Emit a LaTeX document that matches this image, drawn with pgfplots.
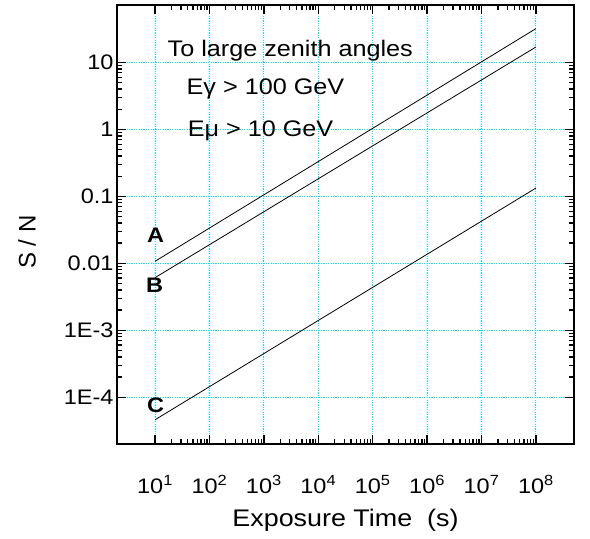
\documentclass[border=0pt]{standalone}
\usepackage{fontspec}
\setmainfont{Liberation Sans}
\usepackage{graphicx}
\usepackage{pgfplots}
\pgfplotsset{compat=1.18}
\definecolor{gridcyan}{RGB}{0,235,245}
\newcommand{\sx}[1]{\scalebox{1.12}[1]{#1}}
\begin{document}
\begin{tikzpicture}
\useasboundingbox (-117pt,-95pt) rectangle (473pt,444pt);
% grid layer
\begin{axis}[
  at={(0,0)}, anchor=south west,
  scale only axis, width=457pt, height=439pt,
  xmode=log, ymode=log,
  xmin=2, xmax=5e8, ymin=2e-5, ymax=72,
  xtick={1e1,1e2,1e3,1e4,1e5,1e6,1e7,1e8},
  ytick={1e-4,1e-3,1e-2,1e-1,1,10},
  xticklabels={}, yticklabels={},
  axis line style={draw=none},
  tickwidth=0pt, subtickwidth=0pt,
  every major tick/.append style={draw=gridcyan},
  every minor tick/.append style={draw=none},
  xmajorgrids, ymajorgrids,
  major grid style={draw=gridcyan, solid, dash pattern=on 1.2pt off 1.2pt, line width=1pt},
]
\end{axis}
% main layer
\begin{axis}[
  at={(0,0)}, anchor=south west,
  scale only axis, width=457pt, height=439pt,
  xmode=log, ymode=log,
  xmin=2, xmax=5e8, ymin=2e-5, ymax=72,
  xtick={1e1,1e2,1e3,1e4,1e5,1e6,1e7,1e8},
  ytick={1e-4,1e-3,1e-2,1e-1,1,10},
  xticklabels={\sx{10\textsuperscript{1}},\sx{10\textsuperscript{2}},\sx{10\textsuperscript{3}},\sx{10\textsuperscript{4}},\sx{10\textsuperscript{5}},\sx{10\textsuperscript{6}},\sx{10\textsuperscript{7}},\sx{10\textsuperscript{8}}},
  yticklabels={\sx{1E-4},\sx{1E-3},\sx{0.01},\sx{0.1},\sx{1},\sx{10}},
  xtick pos=both, ytick pos=both,
  tickwidth=9pt, subtickwidth=5pt,
  tick style={draw=black, solid, line width=1.3pt},
  axis line style={line width=1.6pt},
  tick label style={font=\fontsize{21}{24}\selectfont},
  xticklabel style={yshift=-28pt},
  xlabel={\sx{Exposure Time\ \ (s)}}, ylabel={S / N},
  label style={font=\fontsize{24}{28}\selectfont},
  xlabel style={at={(axis description cs:0.5,-0.189)}, anchor=base},
  ylabel style={at={(axis description cs:-0.197,0.46)}, anchor=center},
  clip=false,
]
\addplot[black, line width=0.8pt] coordinates {(10,0.0107) (1e8,32)};
\addplot[black, line width=0.8pt] coordinates {(10,0.0061) (1e8,17)};
\addplot[black, line width=0.8pt] coordinates {(10,4.6e-5) (1e8,0.133)};
\node[font=\fontsize{22.5}{26}\selectfont, anchor=base] at (axis cs:3060,12.2) {\sx{To large zenith angles}};
\node[font=\fontsize{22.5}{26}\selectfont, anchor=base] at (axis cs:1070,3.28) {\sx{Eγ > 100 GeV}};
\node[font=\fontsize{22.5}{26}\selectfont, anchor=base] at (axis cs:870,0.773) {\sx{Eμ > 10 GeV}};
\node[font=\bfseries\fontsize{21}{24}\selectfont] at (axis cs:10.2,0.0264) {\sx{A}};
\node[font=\bfseries\fontsize{21}{24}\selectfont] at (axis cs:9.8,0.0047) {\sx{B}};
\node[font=\bfseries\fontsize{21}{24}\selectfont] at (axis cs:10.2,7.5e-5) {\sx{C}};
\end{axis}
\end{tikzpicture}
\end{document}
